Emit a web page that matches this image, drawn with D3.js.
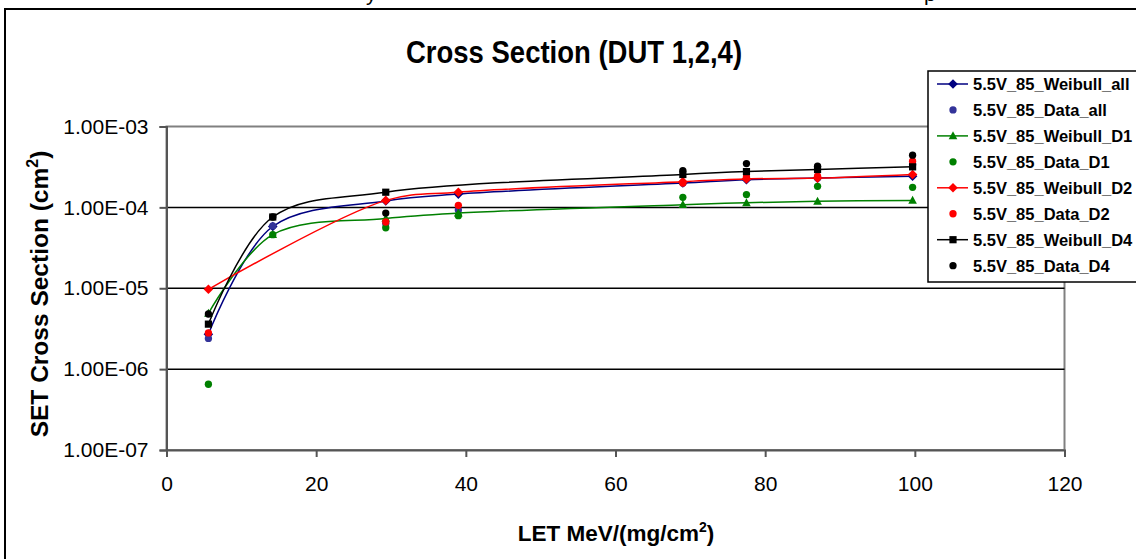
<!DOCTYPE html>
<meta charset="utf-8">
<head>
<title>Cross Section (DUT 1,2,4)</title>
<script src="https://cdnjs.cloudflare.com/ajax/libs/d3/7.8.5/d3.min.js" charset="utf-8"></script>
<style type="text/css">
body {margin: 0; background: #fff;}
text {font-family: "Liberation Sans", Arial, sans-serif; fill: #000;}
</style>
</head>
<body>
<script>
// Data
var letValues  = [5.6, 14.2, 29.3, 39.0, 69.0, 77.5, 87.0, 99.7];
var weibullAll = [2.7e-6, 5.8e-5, 1.2e-4, 1.46e-4, 2.0e-4, 2.2e-4, 2.3e-4, 2.43e-4];
var dataAll    = [2.4e-6, 5.9e-5, 6.3e-5, 9.3e-5, 2.0e-4, 2.3e-4, 2.3e-4, 3.4e-4];
var weibullD1  = [4.9e-6, 4.6e-5, 7.3e-5, 8.5e-5, 1.08e-4, 1.14e-4, 1.19e-4, 1.22e-4];
var dataD1     = [6.5e-7, 4.6e-5, 5.6e-5, 7.9e-5, 1.33e-4, 1.44e-4, 1.82e-4, 1.77e-4];
var weibullD2  = [9.7e-6, null, 1.22e-4, 1.54e-4, 2.08e-4, 2.25e-4, 2.3e-4, 2.55e-4];
var dataD2     = [2.8e-6, null, 6.6e-5, 1.06e-4, 2.0e-4, 2.38e-4, 2.43e-4, 3.72e-4];
var weibullD4  = [3.6e-6, 7.6e-5, 1.54e-4, null, 2.55e-4, 2.77e-4, 2.94e-4, 3.17e-4];
var dataD4     = [4.8e-6, 7.6e-5, 8.5e-5, null, 2.85e-4, 3.48e-4, 3.23e-4, 4.42e-4];

var xTicks = [0, 20, 40, 60, 80, 100, 120];
var yTicks = [1e-7, 1e-6, 1e-5, 1e-4, 1e-3];

var series = [
  {name: "5.5V_85_Weibull_all", values: weibullAll, color: "#000080", line: true,  marker: "diamond"},
  {name: "5.5V_85_Data_all",    values: dataAll,    color: "#333399", line: false, marker: "circle"},
  {name: "5.5V_85_Weibull_D1",  values: weibullD1,  color: "#008000", line: true,  marker: "triangle"},
  {name: "5.5V_85_Data_D1",     values: dataD1,     color: "#008000", line: false, marker: "circle"},
  {name: "5.5V_85_Weibull_D2",  values: weibullD2,  color: "#ff0000", line: true,  marker: "diamond"},
  {name: "5.5V_85_Data_D2",     values: dataD2,     color: "#ff0000", line: false, marker: "circle"},
  {name: "5.5V_85_Weibull_D4",  values: weibullD4,  color: "#000000", line: true,  marker: "square"},
  {name: "5.5V_85_Data_D4",     values: dataD4,     color: "#000000", line: false, marker: "circle"}
];

var width = 1136, height = 559;

var svg = d3.select("body").append("svg")
  .attr("width", width)
  .attr("height", height);

var x = d3.scaleLinear().domain([0, 120]).range([166.5, 1064.5]);
var y = d3.scaleLog().domain([1e-7, 1e-3]).range([450, 126.5]);

// marker shapes
function markerPath(type) {
  if (type == "diamond") return "M0,-4.8L4.8,0L0,4.8L-4.8,0Z";
  if (type == "triangle") return "M0,-4.6L4.3,3.4L-4.3,3.4Z";
  if (type == "square") return "M-3.6,-3.6H3.6V3.6H-3.6Z";
  return d3.symbol().type(d3.symbolCircle).size(42)();
}

// cut-off caption line above the chart
svg.append("text").attr("x", 366).attr("y", 1).style("font-size", "21px").text("y");
svg.append("text").attr("x", 924).attr("y", 1).style("font-size", "21px").text("p");

// chart area border
svg.append("rect")
  .attr("x", 5).attr("y", 9)
  .attr("width", 1150).attr("height", 570)
  .attr("fill", "none").attr("stroke", "#000").attr("stroke-width", 2);

// plot area border
svg.append("rect")
  .attr("x", x(0)).attr("y", y(1e-3))
  .attr("width", x(120) - x(0)).attr("height", y(1e-7) - y(1e-3))
  .attr("fill", "none").attr("stroke", "#808080").attr("stroke-width", 2);

// gridlines
svg.append("g").selectAll("line")
  .data([1e-6, 1e-5, 1e-4])
  .enter().append("line")
  .attr("x1", x(0)).attr("x2", x(120))
  .attr("y1", d => y(d)).attr("y2", d => y(d))
  .attr("stroke", "#000").attr("stroke-width", 1.5);

// axes
var yAxis = svg.append("g")
  .attr("transform", "translate(" + x(0) + ",0)")
  .call(d3.axisLeft(y).tickValues(yTicks).tickSize(7).tickPadding(11)
    .tickFormat(d => d.toExponential(2).toUpperCase().replace(/E([+-])(\d)$/, "E$10$2")));

var xAxis = svg.append("g")
  .attr("transform", "translate(0," + y(1e-7) + ")")
  .call(d3.axisBottom(x).tickValues(xTicks).tickSize(7).tickPadding(19).tickFormat(d3.format("d")));

[yAxis, xAxis].forEach(function(a) {
  a.select(".domain").attr("stroke", "#555").attr("stroke-width", 2);
  a.selectAll(".tick line").attr("stroke", "#555").attr("stroke-width", 2);
  a.selectAll("text").style("font-size", "21px").style("font-family", "'Liberation Sans', Arial, sans-serif").attr("fill", "#000");
});

// series
var line = d3.line()
  .defined(d => d.v != null)
  .x(d => x(d.x))
  .y(d => y(d.v))
  .curve(d3.curveCatmullRom);

series.forEach(function(s) {
  var pts = letValues.map((lx, i) => ({x: lx, v: s.values[i]}));
  var g = svg.append("g");
  if (s.line) {
    g.append("path")
      .attr("d", line(pts.filter(p => p.v != null)))
      .attr("fill", "none")
      .attr("stroke", s.color)
      .attr("stroke-width", 1.5);
  }
  g.selectAll("path.m")
    .data(pts.filter(p => p.v != null))
    .enter().append("path")
    .attr("class", "m")
    .attr("d", markerPath(s.marker))
    .attr("transform", p => "translate(" + x(p.x) + "," + y(p.v) + ")")
    .attr("fill", s.color);
});

// title
svg.append("text")
  .attr("transform", "translate(574,63) scale(1,1.15)")
  .attr("text-anchor", "middle")
  .style("font-size", "27.5px").style("font-weight", "bold")
  .text("Cross Section (DUT 1,2,4)");

// axis titles
var xt = svg.append("text")
  .attr("transform", "translate(616,541)")
  .attr("text-anchor", "middle")
  .style("font-size", "22.5px").style("font-weight", "bold");
xt.append("tspan").text("LET MeV/(mg/cm");
xt.append("tspan").attr("dy", -9).style("font-size", "14px").text("2");
xt.append("tspan").attr("dy", 9).text(")");

var yt = svg.append("text")
  .attr("transform", "translate(48,294) rotate(-90)")
  .attr("text-anchor", "middle")
  .style("font-size", "24.5px").style("font-weight", "bold");
yt.append("tspan").text("SET Cross Section (cm");
yt.append("tspan").attr("dy", -10).style("font-size", "16px").text("2");
yt.append("tspan").attr("dy", 10).text(")");

// legend
var lg = svg.append("g").attr("transform", "translate(928,71)");
lg.append("rect")
  .attr("width", 230).attr("height", 211)
  .attr("fill", "#fff").attr("stroke", "#000").attr("stroke-width", 1.5);

var rows = lg.selectAll("g.row")
  .data(series)
  .enter().append("g")
  .attr("class", "row")
  .attr("transform", (d, i) => "translate(0," + (13 + i * 25.95) + ")");

rows.filter(d => d.line).append("line")
  .attr("x1", 9).attr("x2", 40)
  .attr("stroke", d => d.color).attr("stroke-width", 1.5);

rows.append("path")
  .attr("d", d => markerPath(d.marker))
  .attr("transform", "translate(25,0)")
  .attr("fill", d => d.color);

rows.append("text")
  .attr("x", 45).attr("y", 6)
  .style("font-size", "16.5px").style("font-weight", "bold")
  .text(d => d.name);
</script>
</body>
